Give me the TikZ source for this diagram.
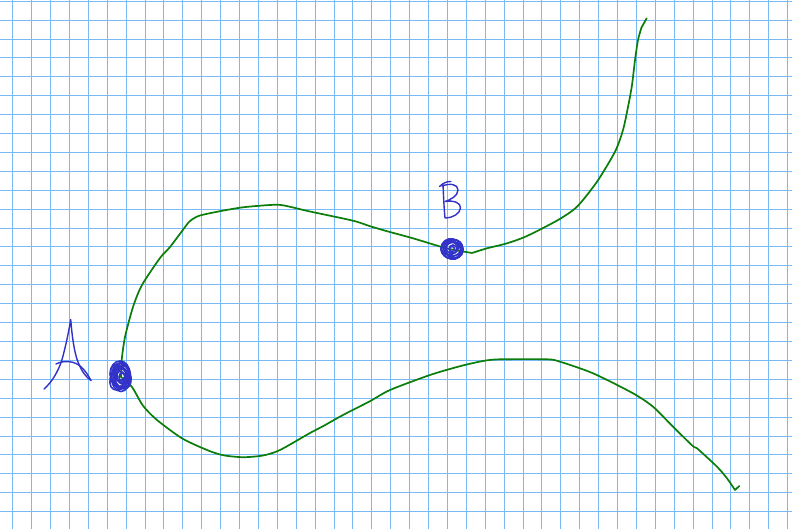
\documentclass[tikz,border=0pt]{standalone}
\definecolor{gridblue}{RGB}{120,185,248}
\definecolor{pathgreen}{RGB}{10,125,10}
\definecolor{inkblue}{RGB}{50,50,200}
\tikzset{
  gridline/.style={draw=gridblue, line width=1pt},
  route/.style={draw=pathgreen, line width=1.7pt, line join=round, line cap=round},
  ink/.style={draw=inkblue, line width=1.4pt, line join=round, line cap=round},
  blob/.style={draw=inkblue, line width=1.6pt},
}
\begin{document}
\begin{tikzpicture}[x=1pt,y=-1pt]
\useasboundingbox (0,0) rectangle (792,529);
\fill[white] (0,0) rectangle (792,529);
% grid
\foreach \k in {0,...,41} {\draw[gridline] ({12.7+18.9*\k},0) -- ({12.7+18.9*\k},529);}
\foreach \k in {0,...,27} {\draw[gridline] (0,{1.3+18.9*\k}) -- (792,{1.3+18.9*\k});}
% points
\coordinate (A) at (121,377);
\coordinate (B) at (452,249);
\coordinate (topend) at (646.7,18.3);
\coordinate (botend) at (739.3,486);
% upper route
\draw[route] plot[smooth, tension=0.45] coordinates {(121,377) (121.7,360) (125,337) (133,307) (142,285) (160,258) (170,247) (188,223)}
  -- plot[smooth, tension=0.45] coordinates {(188,223) (192,219.5) (200,215.5) (220,211.2) (243,207.3) (270,205) (283,205.3) (310,211.5) (353,220.7) (370,226.2) (387,231.2) (413,238.3) (440,246.5) (452,249.5) (472,253)}
  -- plot[smooth, tension=0.45] coordinates {(472,253) (487,248.3) (507,243.3) (527,236) (558,220) (577,206.7) (597,181.7) (615,151.7) (623,130) (628,107) (632,85) (635,60) (638,40) (641.5,27.5)}
  -- (topend);
% lower route
\draw[route] plot[smooth, tension=0.45] coordinates {(121,377) (132,387) (143,405.7) (157,420) (182,438.3) (207,450) (223,455.2) (243,457.2) (263,455.5) (280,450) (310,433) (323,426.2) (343,415) (370,401.2) (390,390) (430,375) (460,366.2) (483,361) (500,359.3) (547,359.3) (560,361.7) (593,373.3) (633,393.3) (653,406.7) (673,426.7) (693,446.2) (697,448.3) (717,466.7) (727,478.3) (735,490)}
  -- (botend);
% scribble A
\foreach \r/\a/\b/\dx/\dy in {0/9.5/14.5/0/0, 20/8.5/13/1/1, -15/8/12/-1/2, 10/7/11/1/-1, 30/6/9/0/2, -30/9/13/-1/-1, 5/5/8/1/1, 0/10/13/-1/3, 15/4/6/0/0, -10/6.5/10/0/-2, 25/7.5/12/-2/1, 0/3/4/1/0, -20/5.5/7/-1/3} {
  \draw[blob] ([xshift=\dx pt, yshift=\dy pt]A) ellipse[x radius=\a, y radius=\b, rotate=\r];
}
% scribble B
\foreach \r/\a/\b/\dx/\dy in {0/11/9.5/0/0, 20/9.5/8/1/1, -20/10/8.5/-1/-1, 10/7.5/7/1/0, 30/6/5.5/0/1, -30/11/10/0/0, 0/4/4/1/0, 15/8.5/6.5/-2/1, -10/9/8/2/-1, 0/2.5/2.5/0/0} {
  \draw[blob] ([xshift=\dx pt, yshift=\dy pt]B) ellipse[x radius=\a, y radius=\b, rotate=\r];
}
% letter A
\draw[ink] (44,389) .. controls (52,382) and (60,370) .. (64,352) .. controls (67,340) and (69,330) .. (70.7,319.5)
  .. controls (72,335) and (74,352) .. (78,362) .. controls (82,372) and (86,377) .. (91,380.5);
\draw[ink] (56,364) .. controls (64,360) and (74,361) .. (80,366) .. controls (85,370) and (88,375) .. (91,380.5);
% letter B
\draw[ink] (439.5,186.5) .. controls (444,182) and (448,181.5) .. (451,181.5);
\draw[ink] (443,184) .. controls (443.5,196) and (444,208) .. (445,218);
\draw[ink] (442,186) .. controls (450,183) and (458,184) .. (458,190) .. controls (458,196) and (450,200) .. (445,201.5)
  .. controls (454,200) and (461,203) .. (460.5,208) .. controls (460,214) and (452,218) .. (445.5,218);
\end{tikzpicture}
\end{document}
